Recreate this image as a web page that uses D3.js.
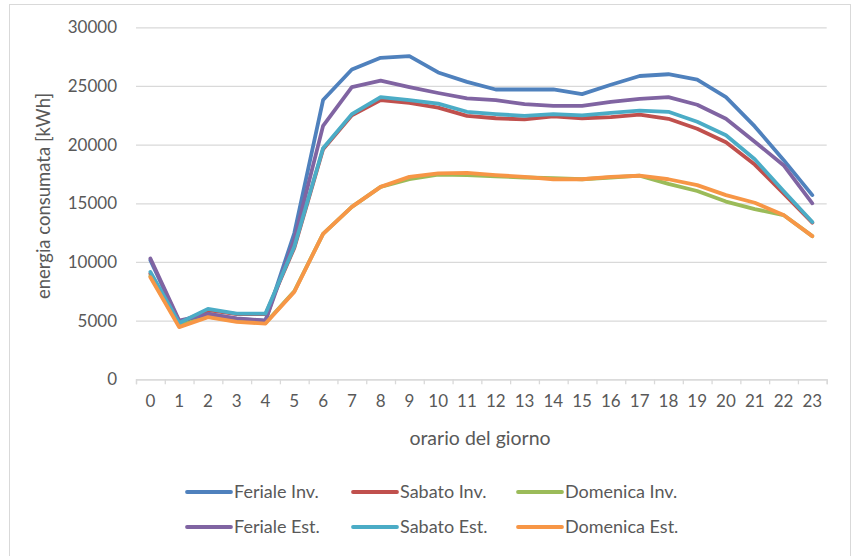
<!DOCTYPE html>
<html>
<head>
<meta charset="utf-8">
<script src="https://cdn.jsdelivr.net/npm/d3@7"></script>
<style>
  html, body { margin: 0; padding: 0; background: #fff; }
  svg { display: block; }
  text { font-family: Lato, "Open Sans", sans-serif; fill: #595959; }
</style>
</head>
<body>
<svg id="chart" width="852" height="556"></svg>
<script>
const hours = d3.range(0, 24);
const yTicks = [0, 5000, 10000, 15000, 20000, 25000, 30000];
const seriesNames = ["Feriale Inv.", "Sabato Inv.", "Domenica Inv.", "Feriale Est.", "Sabato Est.", "Domenica Est."];
const seriesColors = ["#4F81BD", "#C0504D", "#9BBB59", "#8064A2", "#4BACC6", "#F79646"];

const ferialeInv  = [10150, 4900, 5600, 5150, 5000, 12450, 23800, 26400, 27400, 27550, 26150, 25350, 24700, 24700, 24700, 24300, 25100, 25850, 26000, 25550, 24050, 21550, 18700, 15700];
const sabatoInv   = [9000, 4800, 5900, 5550, 5550, 11200, 19600, 22500, 23800, 23550, 23150, 22450, 22250, 22150, 22400, 22250, 22350, 22550, 22200, 21350, 20200, 18300, 15850, 13350];
const domenicaInv = [8800, 4550, 5350, 4950, 4800, 7500, 12400, 14700, 16400, 17050, 17450, 17400, 17300, 17200, 17150, 17050, 17200, 17350, 16650, 16050, 15150, 14500, 14000, 12200];
const ferialeEst  = [10300, 5000, 5550, 5200, 5000, 11900, 21600, 24900, 25450, 24900, 24400, 23950, 23800, 23450, 23300, 23300, 23650, 23900, 24050, 23400, 22200, 20250, 18250, 15000];
const sabatoEst   = [9150, 4800, 6000, 5600, 5600, 11300, 19700, 22600, 24050, 23800, 23500, 22800, 22600, 22450, 22600, 22500, 22700, 22900, 22800, 21950, 20800, 18750, 16050, 13400];
const domenicaEst = [8700, 4450, 5300, 4900, 4750, 7450, 12400, 14700, 16400, 17250, 17550, 17600, 17400, 17250, 17050, 17050, 17250, 17350, 17050, 16550, 15700, 15050, 14000, 12200];

const seriesValues = [ferialeInv, sabatoInv, domenicaInv, ferialeEst, sabatoEst, domenicaEst];

const svg = d3.select("#chart");
const pLeft = 136, pRight = 826.7, pTop = 27.3, pBottom = 379.3;

// outer border
svg.append("rect").attr("x", 9.5).attr("y", 4.5).attr("width", 841).attr("height", 560)
  .attr("fill", "#fff").attr("stroke", "#d9d9d9").attr("stroke-width", 1);

const x = d3.scaleBand().domain(hours).range([pLeft, pRight]).padding(0);
const xEdge = d3.scaleLinear().domain([0, hours.length]).range([pLeft, pRight]);
const y = d3.scaleLinear().domain([0, 30000]).range([pBottom, pTop]);

// gridlines
const grid = svg.append("g").attr("transform", `translate(${pLeft},0)`)
  .call(d3.axisLeft(y).tickValues(yTicks).tickSize(-(pRight - pLeft)).tickFormat(""));
grid.select(".domain").remove();
grid.selectAll("line").attr("stroke", "#d9d9d9").attr("stroke-width", 1.3);

// y labels
const yAx = svg.append("g").attr("transform", `translate(${pLeft},0)`)
  .call(d3.axisLeft(y).tickValues(yTicks).tickSize(0).tickPadding(19).tickFormat(d3.format("d")));
yAx.select(".domain").remove();
yAx.selectAll("text").style("font-size", "17px").attr("fill", "#595959");

// x axis ticks at boundaries
const xTickAx = svg.append("g").attr("transform", `translate(0,${pBottom})`)
  .call(d3.axisBottom(xEdge).tickValues(d3.range(0, hours.length + 1)).tickSize(5).tickFormat(""));
xTickAx.select(".domain").attr("stroke", "#d9d9d9").attr("stroke-width", 1.3);
xTickAx.selectAll("line").attr("stroke", "#d9d9d9").attr("stroke-width", 1.3);

// x labels
const xAx = svg.append("g").attr("transform", `translate(0,${pBottom})`)
  .call(d3.axisBottom(x).tickSize(0).tickPadding(16));
xAx.select(".domain").remove();
xAx.selectAll("text").style("font-size", "17px").attr("fill", "#595959");

// axis titles
svg.append("text").attr("x", 480).attr("y", 438).attr("text-anchor", "middle")
  .attr("dy", "0.35em").style("font-size", "19.5px").text("orario del giorno");
svg.append("text").attr("transform", "translate(44,196) rotate(-90)").attr("text-anchor", "middle")
  .attr("dy", "0.35em").style("font-size", "18.5px").text("energia consumata [kWh]");

// lines
const line = d3.line().x((d, i) => x(hours[i]) + x.bandwidth() / 2).y(d => y(d));
seriesValues.forEach((vals, k) => {
  svg.append("path").datum(vals).attr("d", line)
    .attr("fill", "none").attr("stroke", seriesColors[k]).attr("stroke-width", 3.8)
    .attr("stroke-linejoin", "round").attr("stroke-linecap", "round");
});

// legend
const legCols = [187, 353, 518];
const legRows = [492, 527];
seriesNames.forEach((name, k) => {
  const cx = legCols[k % 3], cy = legRows[Math.floor(k / 3)];
  const g = svg.append("g");
  g.append("line").attr("x1", cx).attr("x2", cx + 44).attr("y1", cy).attr("y2", cy)
    .attr("stroke", seriesColors[k]).attr("stroke-width", 3.8).attr("stroke-linecap", "round");
  g.append("text").attr("x", cx + 47).attr("y", cy).attr("dy", "0.35em")
    .style("font-size", "18px").text(name);
});
</script>
</body>
</html>
